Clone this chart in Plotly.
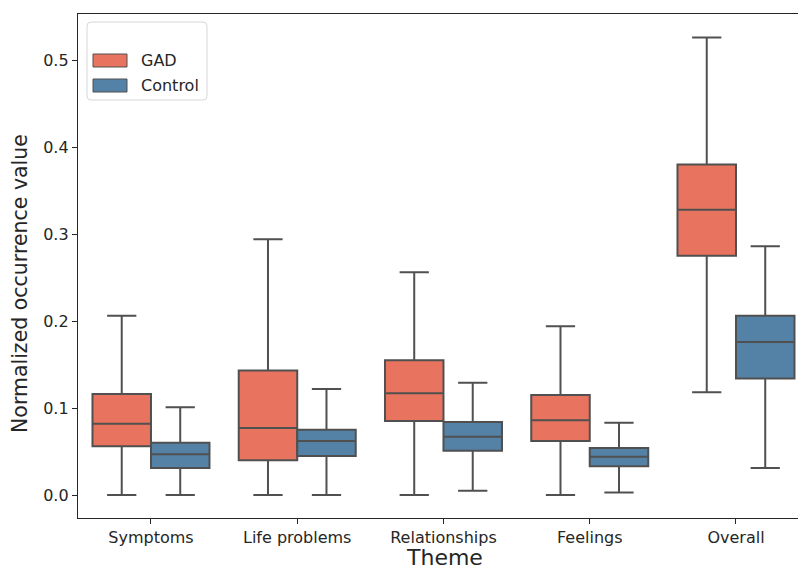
import plotly.graph_objects as go

themes = ["Symptoms", "Life problems", "Relationships", "Feelings", "Overall"]

gad_low = [0.0, 0.0, 0.0, 0.0, 0.118]
gad_q1 = [0.056, 0.040, 0.085, 0.062, 0.275]
gad_med = [0.082, 0.077, 0.117, 0.086, 0.328]
gad_q3 = [0.116, 0.143, 0.155, 0.115, 0.380]
gad_high = [0.206, 0.294, 0.256, 0.194, 0.526]

ctl_low = [0.0, 0.0, 0.005, 0.003, 0.031]
ctl_q1 = [0.031, 0.045, 0.051, 0.033, 0.134]
ctl_med = [0.047, 0.062, 0.067, 0.044, 0.176]
ctl_q3 = [0.060, 0.075, 0.084, 0.054, 0.206]
ctl_high = [0.101, 0.122, 0.129, 0.083, 0.286]

y_ticks = [0.0, 0.1, 0.2, 0.3, 0.4, 0.5]

GAD_COLOR = "#E8735E"
CTL_COLOR = "#5481A6"
EDGE = "#505050"
TEXT = "#262626"
FONT = "DejaVu Sans"

W, H = 798, 572
L, R, T, B = 78, 798, 14, 518


def px(x):
    return (x - L) / (R - L)


def py(y):
    return (B - y) / (B - T)


fig = go.Figure()
fig.add_trace(go.Box(
    x=themes, q1=gad_q1, median=gad_med, q3=gad_q3,
    lowerfence=gad_low, upperfence=gad_high,
    name="GAD", fillcolor=GAD_COLOR, line=dict(color=EDGE, width=2),
    whiskerwidth=0.5, boxpoints=False, showlegend=False, offsetgroup="GAD",
))
fig.add_trace(go.Box(
    x=themes, q1=ctl_q1, median=ctl_med, q3=ctl_q3,
    lowerfence=ctl_low, upperfence=ctl_high,
    name="Control", fillcolor=CTL_COLOR, line=dict(color=EDGE, width=2),
    whiskerwidth=0.5, boxpoints=False, showlegend=False, offsetgroup="Control",
))

# manual legend (matplotlib-style)
x0, y0, x1, y1, r = 87, 22, 207, 100, 4
legend_path = (
    f"M {px(x0 + r)} {py(y0)} L {px(x1 - r)} {py(y0)} "
    f"Q {px(x1)} {py(y0)} {px(x1)} {py(y0 + r)} "
    f"L {px(x1)} {py(y1 - r)} Q {px(x1)} {py(y1)} {px(x1 - r)} {py(y1)} "
    f"L {px(x0 + r)} {py(y1)} Q {px(x0)} {py(y1)} {px(x0)} {py(y1 - r)} "
    f"L {px(x0)} {py(y0 + r)} Q {px(x0)} {py(y0)} {px(x0 + r)} {py(y0)} Z"
)
shapes = [
    dict(type="path", path=legend_path, xref="paper", yref="paper",
         line=dict(color="#d6d6d6", width=1), fillcolor="rgba(255,255,255,0.8)"),
    dict(type="rect", xref="paper", yref="paper",
         x0=px(93), x1=px(127), y0=py(67), y1=py(54),
         fillcolor=GAD_COLOR, line=dict(color=EDGE, width=1)),
    dict(type="rect", xref="paper", yref="paper",
         x0=px(93), x1=px(127), y0=py(92), y1=py(79),
         fillcolor=CTL_COLOR, line=dict(color=EDGE, width=1)),
]
annotations = [
    dict(text="GAD", x=px(139), y=py(60.5), xref="paper", yref="paper",
         xanchor="left", yanchor="middle", showarrow=False,
         font=dict(family=FONT, size=16, color=TEXT)),
    dict(text="Control", x=px(139), y=py(85.5), xref="paper", yref="paper",
         xanchor="left", yanchor="middle", showarrow=False,
         font=dict(family=FONT, size=16, color=TEXT)),
    dict(text="Theme", x=px(444.5), y=py(557), xref="paper", yref="paper",
         xanchor="center", yanchor="middle", showarrow=False, borderpad=0,
         font=dict(family=FONT, size=22, color=TEXT)),
    dict(text="Normalized occurrence value", x=px(20), y=py(284),
         xref="paper", yref="paper", textangle=-90,
         xanchor="center", yanchor="middle", showarrow=False,
         font=dict(family=FONT, size=20.5, color=TEXT)),
]

fig.update_layout(
    width=W, height=H,
    margin=dict(l=L, r=W - R, t=T, b=H - B, autoexpand=False),
    paper_bgcolor="white", plot_bgcolor="white",
    boxmode="group", boxgap=0.2, boxgroupgap=0.0,
    font=dict(family=FONT, size=16, color=TEXT),
    shapes=shapes, annotations=annotations,
    showlegend=False,
)
fig.update_xaxes(
    type="category", categoryorder="array", categoryarray=themes,
    range=[-0.499, 4.424],
    showline=True, mirror=True, linecolor=TEXT, linewidth=1.3,
    ticks="outside", ticklen=5, tickwidth=1.3, tickcolor=TEXT,
    showgrid=False, zeroline=False,
    tickfont=dict(family=FONT, size=16, color=TEXT),
)
fig.update_yaxes(
    range=[-0.0264, 0.5529],
    tickvals=y_ticks, ticktext=[f"{v:.1f}" for v in y_ticks],
    showline=True, mirror=False, linecolor=TEXT, linewidth=1.3,
    ticks="outside", ticklen=5, tickwidth=1.3, tickcolor=TEXT,
    showgrid=False, zeroline=False,
    tickfont=dict(family=FONT, size=16, color=TEXT),
)

fig.write_html("out.html")
